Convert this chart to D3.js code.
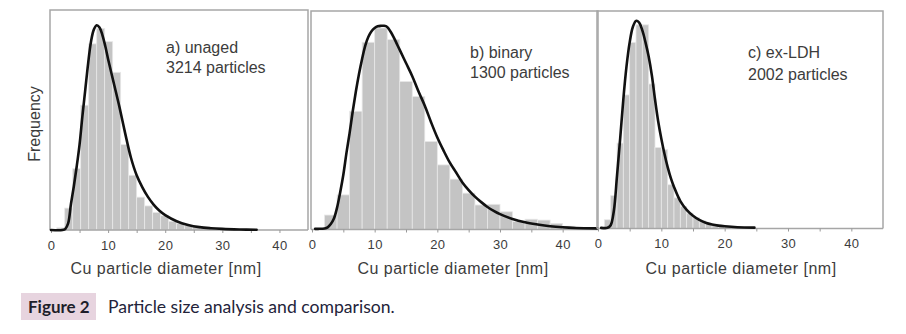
<!DOCTYPE html>
<html><head><meta charset="utf-8">
<script src="https://cdn.jsdelivr.net/npm/d3@7"></script>
<style>body{margin:0;background:#fff}</style></head>
<body><svg id="chart" width="906" height="334"></svg>
<script>
// ---------- data ----------
const panelLabels = ["a) unaged", "b) binary", "c) ex-LDH"];
const particleCounts = ["3214 particles", "1300 particles", "2002 particles"];
const xTicks = [0, 10, 20, 30, 40];
const xTitle = "Cu particle diameter [nm]";
const yTitle = "Frequency";
const captionLabel = "Figure 2";
const captionText = "Particle size analysis and comparison.";

// panel a histogram (bin width 1.4 nm)
const binWidthA = 1.4;
const binStartsA = [1.0,2.4,3.8,5.2,6.6,8.0,9.4,10.8,12.2,13.6,15.0,16.4,17.8,19.2,20.6,22.0,23.4,24.8,26.2,27.6,29.0];
const freqA = [1,10,28,57,85,92,86,72,39,25,15,11,8,6.5,4,3,2,1.5,1,0.7,0.4];
const fitA = [[0,0],[2,0],[2.5,0.5],[3,3],[3.5,12],[4,20],[4.5,29],[5,39],[5.5,52],[6,64],[6.5,76],[7,86],[7.5,91.5],[8,93.5],[8.5,92.5],[9,89],[9.5,84],[10,78],[11,67],[12,56],[13,44],[14,33],[15,25],[16,19.5],[17,15],[18,11.5],[19,8.8],[20,6.8],[22,4],[24,2.3],[26,1.3],[28,0.8],[30,0.5],[33,0.25],[36,0.1]];

// panel b histogram (bin width 2 nm)
const binWidthB = 2;
const binStartsB = [2,4,6,8,10,12,14,16,18,20,22,24,26,28,30,32,34,36,38,40,42];
const freqB = [6.6,15.8,54,85.5,92,86.7,67.6,60.7,40.2,29.5,23,16.6,11.2,11.5,8.1,3.6,4.7,4.3,2.8,1.5,0.8];
const fitB = [[0.5,0.3],[1,0.3],[2,0.5],[2.5,1],[3,2.5],[3.5,5],[4,10],[4.5,17],[5,25],[5.5,35],[6,44],[6.5,54],[7,63],[7.5,71],[8,78],[8.5,84],[9,88],[9.5,90.5],[10,92],[10.5,92.8],[11,93],[11.5,93],[12,92.5],[12.5,90.5],[13,88],[13.5,85],[14,82],[15,76],[16,70],[17,63],[18,56.5],[19,49],[20,42],[21,36],[22,30.5],[23,26],[24,21.5],[25,18],[26,15],[27,12.5],[28,10.3],[29,8.5],[30,7],[32,4.8],[34,3.3],[36,2.3],[38,1.5],[40,1.0],[42,0.7],[45.5,0.5]];

// panel c histogram (bin width 1 nm)
const binWidthC = 1;
const binStartsC = [1,2,3,4,5,6,7,8,9,10,11,12,13,14,15,16,17,18,19,20,21,22];
const freqC = [4,15,39,61,85,93,93,66,37,36,20,14,10,7,5,3.5,2.5,2,1.5,1,0.8,0.5];
const fitC = [[0.5,0.3],[1.5,0.3],[2,1.5],[2.5,8],[3,24],[3.5,41],[4,59],[4.5,74],[5,85],[5.5,92],[6,94.8],[6.5,94],[7,90.5],[7.5,85],[8,78.5],[8.5,70],[9,59],[9.5,49],[10,41],[10.5,34],[11,28],[11.5,23],[12,19],[13,12.5],[14,8.5],[15,5.8],[16,3.9],[17,2.6],[18,1.8],[19,1.3],[20,1],[22,0.6],[24.7,0.4]];

// ---------- layout ----------
const layout = [
  {left:50, right:308, top:10, base:230, xr:[51,308], titleX:166, annX:166, annY:[53,73],
   bins:binStartsA, bw:binWidthA, freq:freqA, fit:fitA},
  {left:311, right:598, top:11, base:229.5, xr:[312,594], titleX:453, annX:470, annY:[57.5,78],
   bins:binStartsB, bw:binWidthB, freq:freqB, fit:fitB},
  {left:597, right:883, top:11, base:228.5, xr:[598,883], titleX:741, annX:748, annY:[58,80],
   bins:binStartsC, bw:binWidthC, freq:freqC, fit:fitC}
];

const svg = d3.select("#chart");
const FONT = "'Liberation Sans', Arial, sans-serif";
const textCol = "#3c3c3c";
const frameCol = "#a6a6a6";

layout.forEach((p, i) => {
  const x = d3.scaleLinear().domain([0,45]).range(p.xr);
  const y = d3.scaleLinear().domain([0,100]).range([p.base, p.base - 219]);
  const g = svg.append("g");

  // bars
  g.selectAll("rect.bar").data(p.bins.map((b, j) => ({b, v: p.freq[j]})))
    .join("rect").attr("class","bar")
    .attr("x", d => x(d.b))
    .attr("width", d => x(d.b + p.bw) - x(d.b))
    .attr("y", d => y(d.v))
    .attr("height", d => y(0) - y(d.v))
    .attr("fill", "#c4c4c4")
    .attr("stroke", "#e8e8e8")
    .attr("stroke-width", 0.8);

  // frame
  g.append("path")
    .attr("d", `M${p.left},${p.base}V${p.top}H${p.right}V${p.base}`)
    .attr("fill","none").attr("stroke",frameCol).attr("stroke-width",1.5);

  // x axis
  const axis = d3.axisBottom(x).tickValues(d3.range(0,45,5)).tickSize(3).tickFormat(d => xTicks.includes(d) ? d : "");
  const ax = g.append("g").attr("transform", `translate(0,${p.base})`).call(axis);
  ax.select(".domain").attr("stroke", frameCol).attr("stroke-width",1.5)
    .attr("d", `M${p.left},0H${p.right}`);
  ax.selectAll(".tick line").attr("stroke", "#999");
  ax.selectAll(".tick text").attr("fill", textCol).attr("font-family", FONT)
    .attr("font-size", 13).attr("letter-spacing", "0.4px").attr("dy", "1.05em");

  // fit curve
  g.append("path").datum(p.fit)
    .attr("d", d3.line().x(d => x(d[0])).y(d => y(d[1])).curve(d3.curveCatmullRom.alpha(0.5)))
    .attr("fill","none").attr("stroke","#111").attr("stroke-width",2.6)
    .attr("stroke-linejoin","round").attr("stroke-linecap","round");

  // annotation
  g.append("text").attr("x", p.annX).attr("y", p.annY[0]).text(panelLabels[i])
    .attr("font-family", FONT).attr("font-size", 16).attr("fill", textCol);
  g.append("text").attr("x", p.annX).attr("y", p.annY[1]).text(particleCounts[i])
    .attr("font-family", FONT).attr("font-size", 16).attr("fill", textCol);

  // x title
  g.append("text").attr("x", p.titleX).attr("y", 273.5).attr("text-anchor","middle")
    .text(xTitle).attr("font-family", FONT).attr("font-size", 16)
    .attr("letter-spacing","0.5px").attr("fill", textCol);
});

// y title
svg.append("text").attr("transform","translate(40,124) rotate(-90)")
  .attr("text-anchor","middle").text(yTitle)
  .attr("font-family", FONT).attr("font-size", 16).attr("fill", textCol);

// caption
svg.append("rect").attr("x",21).attr("y",293).attr("width",75).attr("height",27).attr("fill","#e7d4df");
svg.append("text").attr("x",28).attr("y",313).text(captionLabel)
  .attr("font-family","Lato, 'Open Sans', sans-serif").attr("font-weight","bold")
  .attr("font-size",17).attr("fill","#1e1e2a");
svg.append("text").attr("x",108).attr("y",313).text(captionText)
  .attr("font-family","Lato, 'Open Sans', sans-serif")
  .attr("font-size",17.6).attr("fill","#23233a");
</script>
</body></html>
